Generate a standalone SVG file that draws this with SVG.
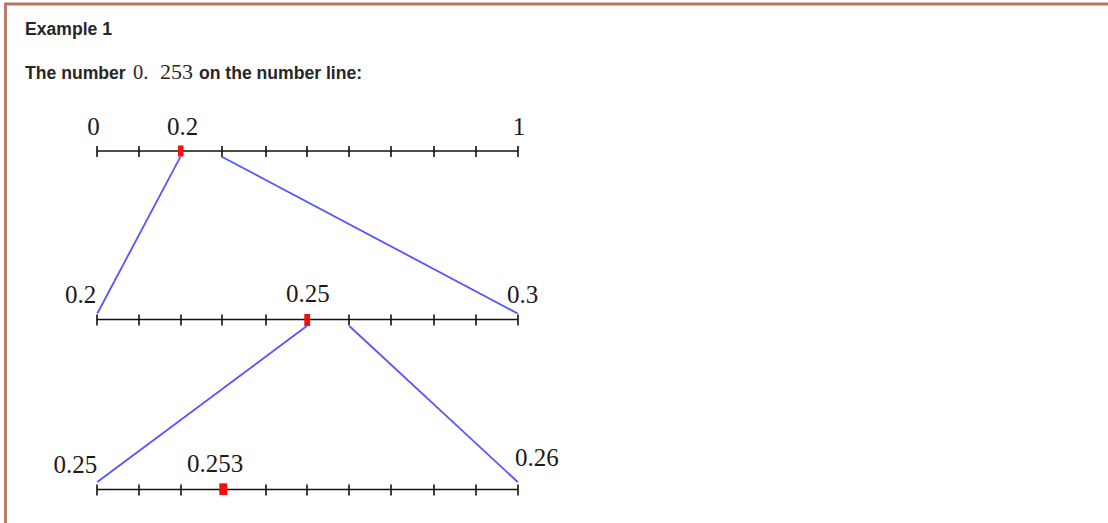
<svg xmlns="http://www.w3.org/2000/svg" width="1108" height="523" viewBox="0 0 1108 523">
<defs>
<style>
.hdr{font-family:"Liberation Sans",Arial,sans-serif;font-weight:bold;font-size:17.6px;fill:#262626}
.math{font-family:"Liberation Serif","Times New Roman",serif;font-size:20.5px;fill:#262626}
.lbl{font-family:"Liberation Serif","Times New Roman",serif;font-size:25px;fill:#1a1a1a}
.axis{stroke:#111;stroke-width:1.6;fill:none}
.tick{stroke:#111;stroke-width:1.6}
.mark{fill:#f01010}
.conn{stroke:#5555ff;stroke-width:1.8;fill:none}
.border{stroke:#b87461;stroke-width:2.8;fill:none}
</style>
</defs>
<rect width="1108" height="523" fill="#ffffff"/>
<g id="frame">
<path class="border" d="M5.5,523 V4 H1108"/>
</g>
<g id="title">
<text class="hdr" x="25" y="35">Example 1</text>
<text class="hdr" x="25" y="78.5">The number <tspan class="math" x="133" font-weight="normal">0.</tspan><tspan class="math" x="160" font-weight="normal" textLength="33" lengthAdjust="spacingAndGlyphs">253</tspan><tspan x="194"> on the number line:</tspan></text>
</g>
<g id="line1">
<line class="axis" x1="97" y1="151" x2="518" y2="151"/>
<path class="tick" d="M97,146V157M139,146V157M222,146V157M266,146V157M307,146V157M349,146V157M391,146V157M434,146V157M476,146V157M518,146V157"/>
<rect class="mark" x="178" y="145.5" width="5.5" height="11"/>
<text class="lbl" x="93.5" y="135" text-anchor="middle">0</text>
<text class="lbl" x="182.5" y="135" text-anchor="middle">0.2</text>
<text class="lbl" x="519" y="135" text-anchor="middle">1</text>
</g>
<g id="line2">
<line class="axis" x1="97" y1="319.5" x2="518" y2="319.5"/>
<path class="tick" d="M97,314.5V325.5M139,314.5V325.5M181,314.5V325.5M222,314.5V325.5M266,314.5V325.5M349,314.5V325.5M391,314.5V325.5M434,314.5V325.5M476,314.5V325.5M518,314.5V325.5"/>
<rect class="mark" x="304.3" y="314" width="5.8" height="12"/>
<text class="lbl" x="65" y="303">0.2</text>
<text class="lbl" x="286" y="302">0.25</text>
<text class="lbl" x="507" y="303">0.3</text>
</g>
<g id="line3">
<line class="axis" x1="97" y1="489.5" x2="518" y2="489.5"/>
<path class="tick" d="M97,484.5V495.5M139,484.5V495.5M181,484.5V495.5M266,484.5V495.5M307,484.5V495.5M349,484.5V495.5M391,484.5V495.5M434,484.5V495.5M476,484.5V495.5M518,484.5V495.5"/>
<rect class="mark" x="219.3" y="483.3" width="8" height="11.7"/>
<text class="lbl" x="53.5" y="472.5">0.25</text>
<text class="lbl" x="187" y="471.5">0.253</text>
<text class="lbl" x="515" y="466">0.26</text>
</g>
<g id="connectors">
<line class="conn" x1="180.5" y1="156.7" x2="97.3" y2="313.5"/>
<line class="conn" x1="221.8" y1="156.7" x2="517.7" y2="313.5"/>
<line class="conn" x1="306.8" y1="326" x2="97.3" y2="482"/>
<line class="conn" x1="349.3" y1="326" x2="517.7" y2="482"/>
</g>
</svg>
